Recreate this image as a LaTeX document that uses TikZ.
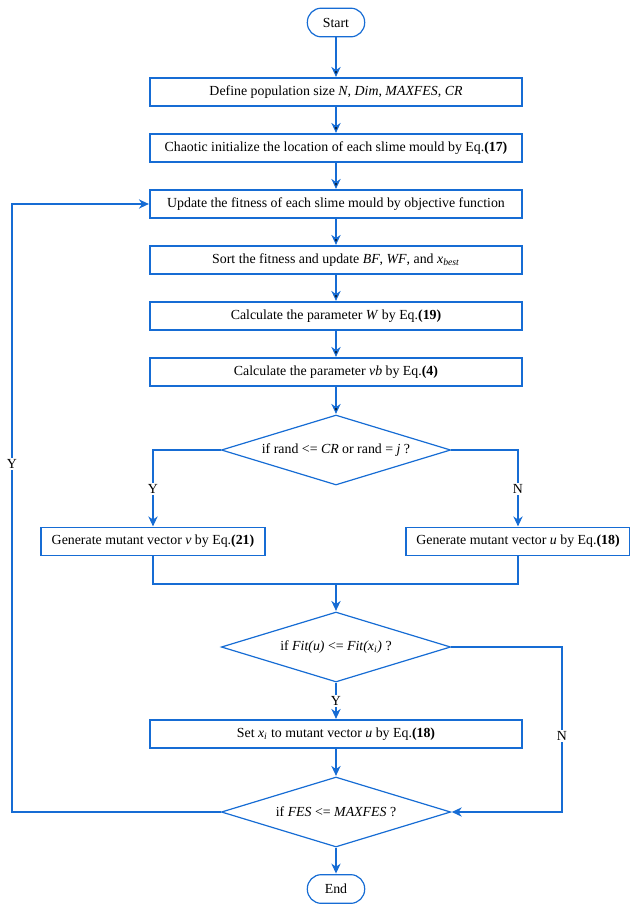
\documentclass[tikz,border=0pt]{standalone}
\usepackage{fontspec}
\setmainfont{Liberation Serif}
\usetikzlibrary{shapes.geometric,arrows.meta}
\definecolor{flowblue}{RGB}{22,108,212}
\tikzset{
	line/.style={draw=flowblue, line width=0.9pt},
	arrow/.style={line, -{Stealth[length=7.5pt,width=7pt]}, shorten >=0.4pt},
	process/.style={line, shape=rectangle, minimum width=279pt, minimum height=21pt, inner sep=2pt, font=\fontsize{10.4}{12}\selectfont},
	sidebox/.style={process, minimum width=168pt},
	decision/.style={line, shape=diamond, aspect=3.3, inner sep=0pt, minimum width=172pt, minimum height=52.5pt, font=\fontsize{10.4}{12}\selectfont},
	terminal/.style={line, shape=rectangle, rounded corners=10.5pt, minimum width=43pt, minimum height=21.5pt, inner sep=1pt, font=\fontsize{10.4}{12}\selectfont},
	lab/.style={fill=white, inner sep=1pt, font=\fontsize{10.4}{12}\selectfont}
}

\begin{document}
\begin{tikzpicture}[x=0.75pt, y=-0.75pt]
	\useasboundingbox (0,0) rectangle (630,904);

	\node[terminal] (start) at (336, 22.5) {Start};
	\node[process] (define) at (336, 92) {Define population size \textit{N}, \textit{Dim}, \textit{MAXFES}, \textit{CR}};
	\node[process] (init) at (336, 148) {Chaotic initialize the location of each slime mould by Eq.\textbf{(17)}};
	\node[process] (update) at (336, 204) {Update the fitness of each slime mould by objective function};
	\node[process] (sort) at (336, 260) {Sort the fitness and update \textit{BF}, \textit{WF}, and \textit{x}\textsubscript{\textit{best}}};
	\node[process] (calcW) at (336, 316) {Calculate the parameter \textit{W} by Eq.\textbf{(19)}};
	\node[process] (calcvb) at (336, 372) {Calculate the parameter \textit{vb} by Eq.\textbf{(4)}};
	\node[decision] (cross) at (336, 450) {if rand <= \textit{CR} or rand = \textit{j} ?};
	\node[sidebox] (genv) at (153, 541.5) {Generate mutant vector \textit{v} by Eq.\textbf{(21)}};
	\node[sidebox] (genu) at (518, 541.5) {Generate mutant vector \textit{u} by Eq.\textbf{(18)}};
	\node[decision] (fit) at (336, 647) {if \textit{Fit(u)} <= \textit{Fit(x\textsubscript{i})} ?};
	\node[process] (setx) at (336, 734) {Set \textit{x\textsubscript{i}} to mutant vector \textit{u} by Eq.\textbf{(18)}};
	\node[decision] (fes) at (336, 812) {if \textit{FES} <= \textit{MAXFES} ?};
	\node[terminal] (end) at (336, 889) {End};

	\coordinate (merge) at (336, 584);
	\coordinate (nturn) at (562, 647);
	\coordinate (yturn) at (12, 812);

	% main column
	\path[arrow] (start) edge (define);
	\path[arrow] (define) edge (init);
	\path[arrow] (init) edge (update);
	\path[arrow] (update) edge (sort);
	\path[arrow] (sort) edge (calcW);
	\path[arrow] (calcW) edge (calcvb);
	\path[arrow] (calcvb) edge (cross);

	% branches
	\draw[arrow] (cross.west) -| node[lab, pos=0.755] {Y} (genv.north);
	\draw[arrow] (cross.east) -| node[lab, pos=0.755] {N} (genu.north);
	\draw[line] (genv.south) |- (merge) -| (genu.south);
	\draw[arrow] (merge) -- (fit.north);

	\draw[arrow] (fit.south) -- node[lab] {Y} (setx.north);
	\draw[arrow] (setx) -- (fes);
	\draw[arrow] (fit.east) -- (nturn) |- node[lab, pos=0.27] {N} (fes.east);
	\draw[arrow] (fes.west) -- (yturn) |- node[lab, pos=0.286] {Y} (update.west);
	\draw[arrow] (fes) -- (end);

\end{tikzpicture}
\end{document}
